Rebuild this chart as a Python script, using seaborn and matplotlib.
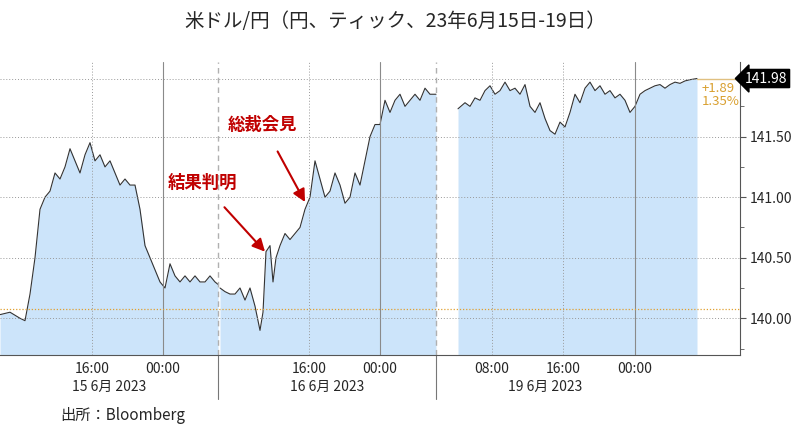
import numpy as np
import matplotlib.pyplot as plt
import seaborn as sns

sns.set_style('white')
plt.rcParams['font.family'] = ['Noto Sans CJK JP', 'DejaVu Sans']

# session time (compressed axis units), prices per trading day
t15 = [0, 10, 20, 25, 30, 35, 40, 45, 50, 55, 60, 65, 70, 75, 80, 85, 90, 95, 100, 105, 110,
       115, 120, 125, 130, 135, 140, 145, 150, 155, 160, 165, 170, 175, 180, 185, 190, 195,
       200, 205, 210, 215, 218]
p15 = [140.03, 140.05, 140.0, 139.98, 140.2, 140.5, 140.9, 141.0, 141.05, 141.2, 141.15,
       141.25, 141.4, 141.3, 141.2, 141.35, 141.45, 141.3, 141.35, 141.25, 141.3, 141.2,
       141.1, 141.15, 141.1, 141.1, 140.9, 140.6, 140.5, 140.4, 140.3, 140.25, 140.45,
       140.35, 140.3, 140.35, 140.3, 140.35, 140.3, 140.3, 140.35, 140.3, 140.28]
t16 = [220, 225, 230, 235, 240, 245, 250, 255, 260, 263, 266, 270, 273, 276, 280, 285, 290,
       295, 300, 305, 310, 315, 320, 325, 330, 335, 340, 345, 350, 355, 360, 365, 370, 375,
       380, 385, 390, 395, 400, 405, 410, 415, 420, 425, 430, 436]
p16 = [140.25, 140.22, 140.2, 140.2, 140.25, 140.15, 140.25, 140.1, 139.9, 140.05, 140.55,
       140.6, 140.3, 140.5, 140.6, 140.7, 140.65, 140.7, 140.75, 140.9, 141.0, 141.3, 141.15,
       141.0, 141.05, 141.2, 141.1, 140.95, 141.0, 141.2, 141.1, 141.3, 141.5, 141.6, 141.6,
       141.8, 141.7, 141.8, 141.85, 141.75, 141.8, 141.85, 141.8, 141.9, 141.85, 141.85]
t19 = [458, 465, 470, 475, 480, 485, 490, 495, 500, 505, 510, 515, 520, 525, 530, 535, 540,
       545, 550, 555, 560, 565, 570, 575, 580, 585, 590, 595, 600, 605, 610, 615, 620, 625,
       630, 635, 640, 645, 650, 655, 660, 665, 670, 675, 680, 685, 690, 697]
p19 = [141.73, 141.78, 141.75, 141.82, 141.8, 141.88, 141.92, 141.85, 141.88, 141.95, 141.88,
       141.9, 141.85, 141.93, 141.75, 141.7, 141.78, 141.65, 141.55, 141.52, 141.62, 141.58,
       141.7, 141.85, 141.78, 141.9, 141.95, 141.88, 141.92, 141.85, 141.88, 141.82, 141.85,
       141.8, 141.7, 141.75, 141.85, 141.88, 141.9, 141.92, 141.93, 141.9, 141.93, 141.95,
       141.94, 141.96, 141.97, 141.98]

tick_pos = [92, 163, 309, 380, 492, 563, 635]
tick_lab = ['16:00', '00:00', '16:00', '00:00', '08:00', '16:00', '00:00']
day_pos = [109, 327, 545]
day_lab = ['15 6月 2023', '16 6月 2023', '19 6月 2023']
dividers = [218, 436]
last_price = 141.98
prev_close = 140.08
yticks = [140.0, 140.5, 141.0, 141.5]

fig = plt.figure(figsize=(7.94, 4.44), dpi=100)
ax = fig.add_axes([0.0, 0.2, 740 / 794, 0.66])
fill = '#cce4fa'
for t, p in [(t15, p15), (t16, p16), (t19, p19)]:
    ax.fill_between(t, p, 139.6, color=fill, lw=0)
    sns.lineplot(x=t, y=p, ax=ax, color='#333333', lw=0.8)

ax.set_xlim(0, 740)
ax.set_ylim(139.695, 142.115)

for x, lab in zip(tick_pos, tick_lab):
    if lab == '00:00':
        ax.axvline(x, color='#8a8a8a', lw=0.8)
    else:
        ax.axvline(x, color='#999999', lw=0.7, ls=(0, (1, 2)))
for x in dividers:
    ax.axvline(x, color='#b0b0b0', lw=1, ls=(0, (4, 3)))
    ax.plot([x, x], [0, -0.15], transform=ax.get_xaxis_transform(), color='#777777',
            lw=0.8, clip_on=False)
for y in yticks + [last_price]:
    ax.axhline(y, color='#999999', lw=0.7, ls=(0, (1, 2)))
ax.axhline(prev_close, color='#e0a030', lw=0.9, ls=(0, (1, 1.5)))
ax.plot([697, 740], [last_price, last_price], color='#e0c080', lw=1)

ax.yaxis.tick_right()
ax.set_yticks(yticks)
ax.set_yticklabels([f'{v:.2f}' for v in yticks], fontsize=10)
ax.set_yticks([139.75, 140.25, 140.75, 141.25, 141.75], minor=True)
ax.set_xticks(tick_pos)
ax.set_xticklabels(tick_lab, fontsize=10)
ax.set_xticks([20, 56, 127, 199, 236, 273, 345, 418, 456, 527, 599, 672], minor=True)
ax.tick_params(axis='both', which='both', direction='out', length=4, color='#555555', pad=3)
ax.tick_params(axis='both', which='minor', length=3)
ax.tick_params(axis='x', which='major', length=0, pad=5)
for s in ['top', 'left']:
    ax.spines[s].set_visible(False)
for s in ['bottom', 'right']:
    ax.spines[s].set_color('#555555')
    ax.spines[s].set_linewidth(0.8)
for x, lab in zip(day_pos, day_lab):
    ax.text(x, -0.085, lab, transform=ax.get_xaxis_transform(), ha='center', va='top', fontsize=10)

ax.text(745, last_price, f'{last_price:.2f}', color='white', fontsize=10, va='center',
        ha='left', clip_on=False,
        bbox=dict(boxstyle='larrow,pad=0.15', fc='black', ec='black'))
ax.text(702, 141.84, '+1.89\n1.35%', color='#d9a030', fontsize=9.5, va='center', ha='left',
        linespacing=1.0)

red = '#c00000'
ax.annotate('結果判明', xy=(265, 140.55), xytext=(202, 141.12), color=red, fontsize=12.5,
            fontweight='bold', ha='center', va='center',
            arrowprops=dict(arrowstyle='-|>,head_length=0.6,head_width=0.3', color=red,
                            lw=1.5, shrinkA=12, shrinkB=0))
ax.annotate('総裁会見', xy=(305, 140.96), xytext=(263, 141.6), color=red, fontsize=12.5,
            fontweight='bold', ha='center', va='center',
            arrowprops=dict(arrowstyle='-|>,head_length=0.6,head_width=0.3', color=red,
                            lw=1.5, shrinkA=12, shrinkB=0))

fig.text(395 / 794, 1 - 22 / 444, '米ドル/円（円、ティック、23年6月15日-19日）', ha='center',
         va='center', fontsize=14)
fig.text(60 / 794, 1 - 415 / 444, '出所：Bloomberg', ha='left', va='center', fontsize=11)

fig.savefig('out.png', dpi=100)
